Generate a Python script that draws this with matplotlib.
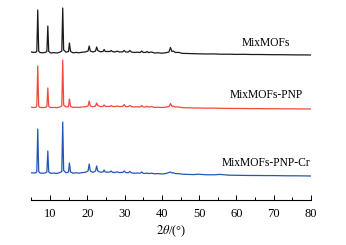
import matplotlib
matplotlib.use("Agg")
import numpy as np
import matplotlib.pyplot as plt
from matplotlib.ticker import MultipleLocator

# 2theta grid (deg) shared by the three patterns
two_theta = [5.0, 5.6, 6.2, 6.45, 6.7, 6.95, 7.3, 8.0, 8.7, 9.15,
             9.4, 9.65, 10.2, 11.0, 11.8, 12.5, 13.15, 13.4, 13.65, 14.3,
             14.95, 15.2, 15.5, 16.2, 17.0, 17.8, 18.6, 19.4, 20.2, 20.5,
             20.8, 21.5, 22.2, 22.5, 22.8, 23.5, 24.2, 24.5, 24.8, 25.5,
             26.1, 26.4, 26.7, 27.3, 28.0, 28.6, 29.5, 29.9, 30.3, 31.0,
             31.4, 31.8, 32.6, 33.4, 34.2, 34.6, 35.0, 35.7, 36.0, 36.4,
             37.2, 38.0, 39.0, 40.0, 41.0, 41.9, 42.3, 42.7, 43.1, 43.6,
             44.5, 45.5, 47.0, 48.5, 49.6, 52.0, 54.0, 55.6, 58.0, 60.0,
             62.0, 64.0, 66.0, 68.0, 70.0, 72.0, 74.0, 76.0, 78.0, 80.0]

# intensities (a.u.)
mixmofs = [3.0, 2.6, 2.8, 4, 45, 4, 2.5, 2.2, 2.6, 3.5,
           29, 3.5, 2.0, 2.4, 2.0, 2.6, 4, 47, 5, 2.8,
           3.5, 12, 3.5, 2.2, 2.6, 2.2, 2.8, 3.0, 4, 9,
           4, 3.0, 4, 8, 4.5, 3.2, 3.5, 5.5, 3.5, 3.5,
           3.5, 4.5, 3.5, 3.0, 3.8, 3.0, 3.2, 4.5, 3.0, 3.0,
           4.5, 3.0, 2.5, 2.8, 2.5, 4.0, 2.5, 2.6, 3.5, 2.4,
           3.0, 2.0, 2.2, 1.8, 2.2, 3.0, 7.5, 3.5, 4.0, 2.5,
           2.6, 1.6, 1.5, 1.3, 1.2, 1.0, 1.1, 0.8, 0.8, 0.6,
           0.7, 0.5, 0.5, 0.4, 0.3, 0.3, 0.2, 0.1, 0.1, 0.0]

mixmofs_pnp = [1.8, 1.5, 1.8, 3, 43, 3, 1.6, 1.4, 1.6, 2.5,
               21, 2.5, 1.4, 1.6, 1.3, 1.8, 3, 49, 4, 2.0,
               2.5, 10, 2.5, 1.6, 1.8, 1.5, 2.0, 2.2, 3, 8,
               3, 2.2, 3, 6, 3.5, 2.4, 2.6, 4.0, 2.6, 2.6,
               2.6, 3.5, 2.6, 2.4, 3.0, 2.4, 2.6, 4.5, 2.4, 2.4,
               3.5, 2.4, 2.0, 2.2, 2.0, 3.5, 2.0, 2.0, 2.8, 1.9,
               2.4, 1.6, 1.8, 1.5, 1.8, 2.5, 5.5, 2.5, 3.0, 2.0,
               2.0, 1.3, 1.2, 1.0, 1.0, 0.8, 0.9, 0.7, 0.6, 0.5,
               0.5, 0.4, 0.4, 0.3, 0.3, 0.2, 0.2, 0.1, 0.1, 0.0]

mixmofs_pnp_cr = [3.2, 3.0, 3.2, 4.5, 47, 4.5, 3.0, 2.8, 3.0, 4.0,
                  25, 4.0, 2.6, 3.0, 2.6, 3.2, 4.5, 54, 5.5, 3.2,
                  4.0, 13, 4.0, 2.8, 3.2, 2.8, 3.4, 3.6, 5, 12,
                  5, 3.6, 5, 10, 5, 3.8, 4.0, 6, 4.0, 3.8,
                  4.0, 5, 3.8, 3.4, 4.2, 3.4, 3.6, 5, 3.4, 3.2,
                  4.5, 3.2, 2.8, 3.0, 2.8, 4.0, 2.6, 2.6, 3.0, 2.4,
                  2.8, 2.2, 2.4, 2.0, 2.4, 3.5, 4.0, 3.0, 3.2, 2.4,
                  2.4, 1.8, 1.6, 1.4, 1.8, 1.2, 1.2, 1.6, 0.8, 0.7,
                  0.6, 0.5, 0.5, 0.4, 0.4, 0.3, 0.2, 0.2, 0.1, 0.0]

names = ["MixMOFs", "MixMOFs-PNP", "MixMOFs-PNP-Cr"]
offsets = [145, 91, 24]
colors = ["#1a1a1a", "#f04a3a", "#2456b4"]
label_y = [157, 105, 37]

plt.rcParams["font.family"] = "Liberation Serif"
plt.rcParams["mathtext.fontset"] = "stix"

fig = plt.figure(figsize=(3.46, 2.45), dpi=100)
ax = fig.add_axes([0.0908, 0.1837, 0.808, 0.8163])

x = np.array(two_theta)
for ys, off, c, name, ly in zip([mixmofs, mixmofs_pnp, mixmofs_pnp_cr],
                                offsets, colors, names, label_y):
    ax.plot(x, np.array(ys) + off, color=c, lw=0.9)
    ax.text(67.9, ly, name, ha="center", va="center", fontsize=8.3)

ax.set_xlim(5, 80)
ax.set_ylim(0, 200)
ax.xaxis.set_major_locator(MultipleLocator(10))
ax.xaxis.set_minor_locator(MultipleLocator(5))
ax.set_xticks(range(10, 81, 10))
ax.tick_params(axis="x", which="both", direction="in", labelsize=9, pad=6)
ax.tick_params(axis="x", which="major", length=3.5, width=0.7)
ax.tick_params(axis="x", which="minor", length=2.5, width=0.7)
ax.set_yticks([])
for s in ["left", "top", "right"]:
    ax.spines[s].set_visible(False)
ax.spines["bottom"].set_linewidth(0.8)
ax.set_xlabel(r"$2\theta$/(°)", fontsize=9, labelpad=2)

fig.savefig("out.png", dpi=100)
